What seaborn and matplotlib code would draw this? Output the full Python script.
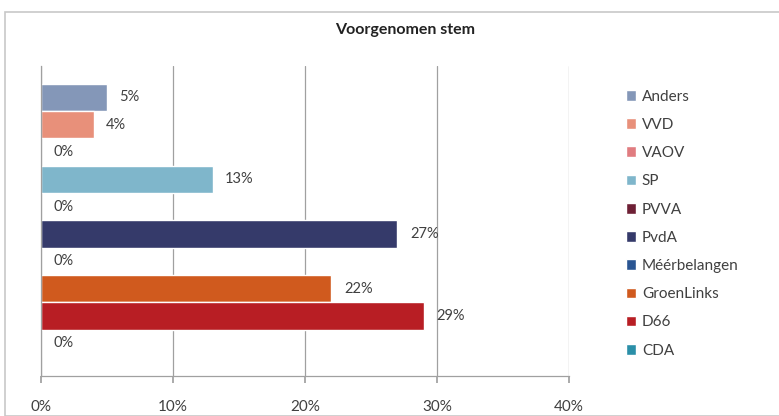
import matplotlib
matplotlib.use("Agg")
import matplotlib.pyplot as plt
import matplotlib.patches as mpatches
import numpy as np
import pandas as pd
import seaborn as sns

# data
parties = ["Anders", "VVD", "VAOV", "SP", "PVVA", "PvdA",
           "Méérbelangen", "GroenLinks", "D66", "CDA"]
shares = [5, 4, 0, 13, 0, 27, 0, 22, 29, 0]
colors = ["#8497B8", "#E8907A", "#E07C80", "#7FB6CB", "#6E2035",
          "#353A6A", "#2A5592", "#D05A1E", "#B81E24", "#2B8FA8"]
x_ticks = [0, 10, 20, 30, 40]

sns.set_theme(style="white")
plt.rcParams["font.family"] = ["Lato", "DejaVu Sans"]

df = pd.DataFrame({"party": parties, "share": shares})

fig = plt.figure(figsize=(7.79, 4.16), dpi=100)
ax = fig.add_axes([41 / 779, 40 / 416, 528 / 779, 310 / 416])

# outer chart frame
frame = mpatches.Rectangle((5 / 779, 0.0), 1.0, 404 / 416, transform=fig.transFigure,
                           fill=False, edgecolor="#c8c8c8", linewidth=1.2)
fig.add_artist(frame)

sns.barplot(data=df, y="party", x="share", hue="party", palette=colors,
            order=parties, hue_order=parties, dodge=False, width=1.0,
            orient="h", legend=False, ax=ax, saturation=1)

for cont in ax.containers:
    ax.bar_label(cont, labels=[f"{v:.0f}%" for v in cont.datavalues],
                 padding=9, fontsize=10.5, color="#404040")

ax.set_xlim(0, 40)
ax.set_ylim(len(parties) - 0.5 + 0.7, -0.5 - 0.65)
ax.set_xticks(x_ticks)
ax.set_xticklabels([f"{t}%" for t in x_ticks], fontsize=11, color="#404040")
ax.set_yticks([])
ax.set_xlabel("")
ax.set_ylabel("")
ax.xaxis.grid(True, color="#a0a0a0", linewidth=0.9)
ax.set_axisbelow(True)
for side in ["top", "right"]:
    ax.spines[side].set_visible(False)
for side in ["left", "bottom"]:
    ax.spines[side].set_color("#a0a0a0")
    ax.spines[side].set_linewidth(0.9)
ax.tick_params(axis="x", bottom=True, length=5, color="#a0a0a0", pad=12)

fig.text(405 / 779, 1 - 30 / 416, "Voorgenomen stem", fontsize=11.5,
         fontweight="bold", color="#222222", ha="center", va="center")

handles = [mpatches.Patch(facecolor=c, label=p) for p, c in zip(parties, colors)]
fig.legend(handles=handles, loc="upper left", bbox_to_anchor=(612 / 779, 1 - 76 / 416),
           frameon=False, fontsize=11, handlelength=0.7, handleheight=0.7,
           handletextpad=0.35, labelspacing=0.93, labelcolor="#404040")

fig.savefig("out.png", dpi=100)
